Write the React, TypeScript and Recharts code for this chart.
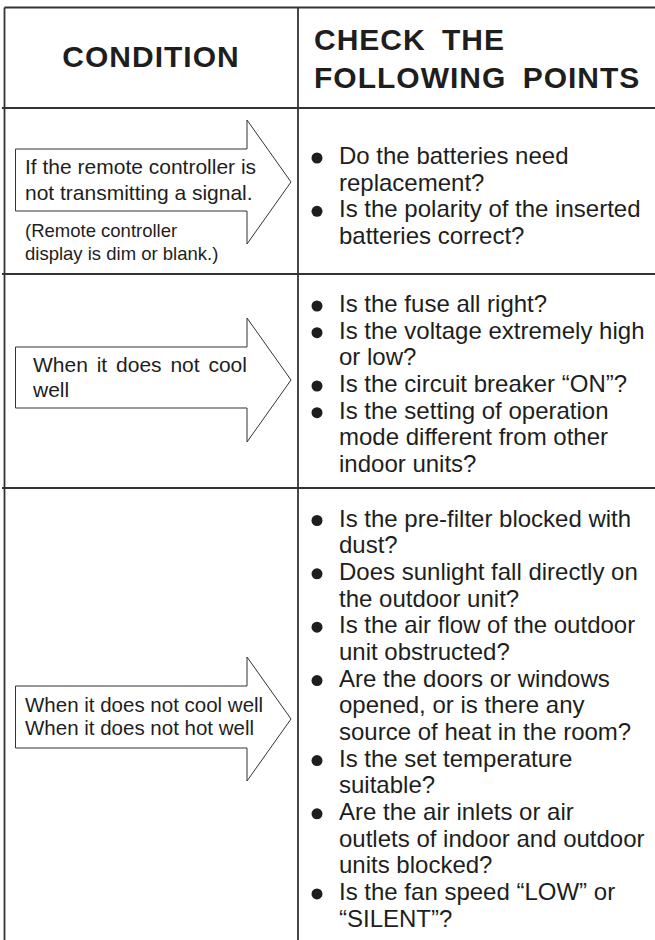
import { ComposedChart, Line, ReferenceLine, Scatter, XAxis, YAxis } from "recharts";

const HEADERS = ["CONDITION", "CHECK THE", "FOLLOWING POINTS"];

const CONDITIONS = [
  ["If the remote controller is", "not transmitting a signal."],
  ["When it does not cool", "well"],
  ["When it does not cool well", "When it does not hot well"],
];

const CONDITION_NOTE = ["(Remote controller", "display is dim or blank.)"];

const CHECKS_REMOTE = [
  ["Do the batteries need", "replacement?"],
  ["Is the polarity of the inserted", "batteries correct?"],
];

const CHECKS_COOL = [
  ["Is the fuse all right?"],
  ["Is the voltage extremely high", "or low?"],
  ["Is the circuit breaker \u201cON\u201d?"],
  ["Is the setting of operation", "mode different from other", "indoor units?"],
];

const CHECKS_COOL_HOT = [
  ["Is the pre-filter blocked with", "dust?"],
  ["Does sunlight fall directly on", "the outdoor unit?"],
  ["Is the air flow of the outdoor", "unit obstructed?"],
  ["Are the doors or windows", "opened, or is there any", "source of heat in the room?"],
  ["Is the set temperature", "suitable?"],
  ["Are the air inlets or air", "outlets of indoor and outdoor", "units blocked?"],
  ["Is the fan speed \u201cLOW\u201d or", "\u201cSILENT\u201d?"],
];

const CHECKS = [CHECKS_REMOTE, CHECKS_COOL, CHECKS_COOL_HOT];

// layout (chart units == pixels)
const W = 655;
const H = 940;
const LEFT = 4.5;
const DIVIDER = 298;
const TOP = 7.5;
const ROW_LINES = [108, 274, 488];
const FIRST_BASELINE = [164, 312, 526.5];
const STEP = 26.67;
const BULLET_X = 317;
const CHECK_X = 339;
const ARROW_X = [15.5, 247, 291];
const ARROW_Y = [
  { mid: 182, body: [149, 211], head: [120, 244] },
  { mid: 380, body: [347, 408], head: [318, 442] },
  { mid: 719, body: [686, 748], head: [657, 781] },
];
const COND_LAYOUT = [
  { x: 25, y: [174, 200], size: 21, ws: 0 },
  { x: 33, y: [372, 397], size: 21, ws: 3 },
  { x: 25, y: [712, 735], size: 20.5, ws: 0 },
];
const NOTE_LAYOUT = { x: 25, y: [237, 260], size: 18.5 };

const INK = "#1e1e1e";
const RULE = "#333";
const FONT = "'Liberation Sans', Arial, sans-serif";

type TextPt = { x: number; y: number; text: string; size: number; weight?: number; anchor?: string; ls?: number; ws?: number };

const texts: TextPt[] = [];
texts.push({ x: 151, y: 67, text: HEADERS[0], size: 30, weight: 700, anchor: "middle", ls: 1 });
texts.push({ x: 314, y: 50, text: HEADERS[1], size: 30, weight: 700, ls: 1, ws: 7 });
texts.push({ x: 314, y: 88, text: HEADERS[2], size: 30, weight: 700, ls: 1, ws: 7 });
CONDITIONS.forEach((lines, r) => {
  const L = COND_LAYOUT[r];
  lines.forEach((t, i) => texts.push({ x: L.x, y: L.y[i], text: t, size: L.size, ws: L.ws }));
});
CONDITION_NOTE.forEach((t, i) => texts.push({ x: NOTE_LAYOUT.x, y: NOTE_LAYOUT.y[i], text: t, size: NOTE_LAYOUT.size }));

const bullets: { x: number; y: number }[] = [];
CHECKS.forEach((items, r) => {
  let line = 0;
  items.forEach((item) => {
    bullets.push({ x: BULLET_X, y: FIRST_BASELINE[r] + line * STEP - 6 });
    item.forEach((t) => {
      texts.push({ x: CHECK_X, y: FIRST_BASELINE[r] + line * STEP, text: t, size: 24 });
      line++;
    });
  });
});

const arrows = ARROW_Y.map((a) => [
  { x: ARROW_X[0], y: a.body[0] },
  { x: ARROW_X[1], y: a.body[0] },
  { x: ARROW_X[1], y: a.head[0] },
  { x: ARROW_X[2], y: a.mid },
  { x: ARROW_X[1], y: a.head[1] },
  { x: ARROW_X[1], y: a.body[1] },
  { x: ARROW_X[0], y: a.body[1] },
  { x: ARROW_X[0], y: a.body[0] },
]);

const TextShape = (props: any) => {
  const p: TextPt = props.payload;
  return (
    <text
      x={props.cx}
      y={props.cy}
      fontFamily={FONT}
      fontSize={p.size}
      fontWeight={p.weight ?? 400}
      textAnchor={p.anchor ?? "start"}
      letterSpacing={p.ls ?? 0}
      wordSpacing={p.ws ?? 0}
      fill={INK}
    >
      {p.text}
    </text>
  );
};

const BulletShape = (props: any) => <circle cx={props.cx} cy={props.cy} r={5.5} fill={INK} />;

export default function App() {
  return (
    <div style={{ position: "absolute", left: 0, top: 0, width: W, height: H, background: "#fff" }}>
      <ComposedChart width={W} height={H} margin={{ top: 0, right: 0, bottom: 0, left: 0 }}>
        <XAxis type="number" dataKey="x" domain={[0, W]} hide allowDataOverflow />
        <YAxis type="number" dataKey="y" domain={[0, H]} reversed hide allowDataOverflow />

        <ReferenceLine segment={[{ x: LEFT, y: TOP }, { x: W, y: TOP }]} stroke={RULE} strokeWidth={1.8} ifOverflow="visible" />
        {ROW_LINES.map((y) => (
          <ReferenceLine key={y} segment={[{ x: 2, y }, { x: W, y }]} stroke={RULE} strokeWidth={1.8} ifOverflow="visible" />
        ))}
        <ReferenceLine segment={[{ x: LEFT, y: TOP }, { x: LEFT, y: H }]} stroke={RULE} strokeWidth={1.8} ifOverflow="visible" />
        <ReferenceLine segment={[{ x: DIVIDER, y: TOP }, { x: DIVIDER, y: H }]} stroke={RULE} strokeWidth={1.8} ifOverflow="visible" />

        {arrows.map((pts, i) => (
          <Line
            key={i}
            data={pts}
            dataKey="y"
            type="linear"
            stroke={RULE}
            strokeWidth={1}
            dot={false}
            activeDot={false}
            isAnimationActive={false}
            strokeLinejoin="miter"
          />
        ))}

        <Scatter data={bullets} dataKey="y" shape={BulletShape} isAnimationActive={false} />
        <Scatter data={texts} dataKey="y" shape={TextShape} isAnimationActive={false} />
      </ComposedChart>
    </div>
  );
}
